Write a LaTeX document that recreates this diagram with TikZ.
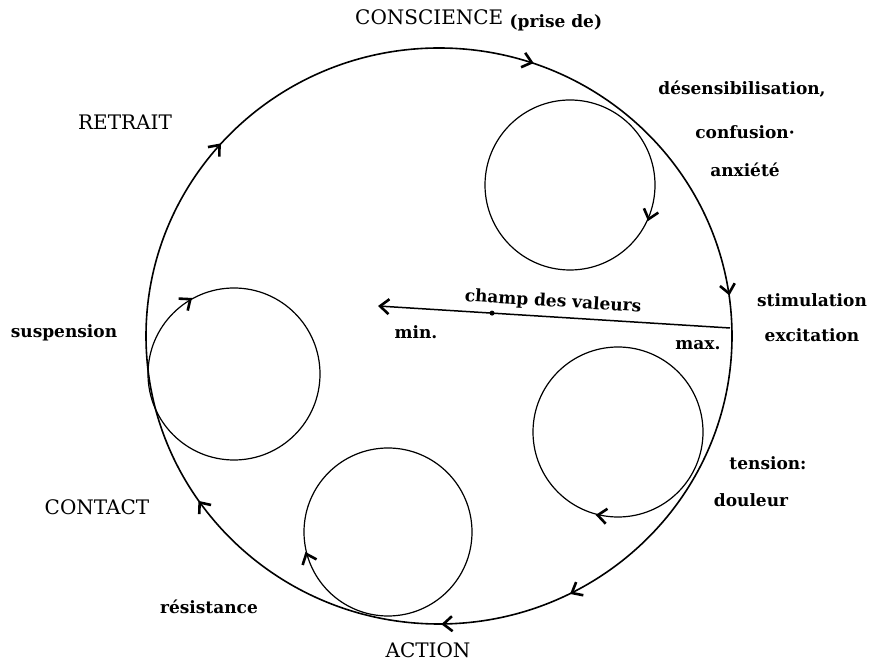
\documentclass[tikz,border=0pt]{standalone}
\usepackage{fontspec}
\setmainfont{DejaVu Serif}
\usetikzlibrary{arrows.meta,decorations.markings,positioning}

\begin{document}
\begin{tikzpicture}[x=1pt,y=1pt,>={Straight Barb[length=9pt,width=15pt,line width=2.6pt]},
  node distance=36pt, every node/.style={inner sep=0pt}]

    \tikzstyle{caps}=[font=\fontsize{20}{24}\selectfont]
    \tikzstyle{word}=[font=\bfseries\fontsize{17}{20}\selectfont]
    \tikzstyle{outer ring}=[line width=1.6pt, postaction={decorate}]
    \tikzstyle{inner ring}=[line width=1.2pt, postaction={decorate}]

    \useasboundingbox (0,0) rectangle (878,661);

    % centres of the rings
    \coordinate (o)    at (439,325);
    \coordinate (desc) at (570,476);
    \coordinate (susp) at (234,287);
    \coordinate (tens) at (618,229);
    \coordinate (resi) at (388,129);

    % the big cycle
    \draw[outer ring, decoration={markings,
        mark=at position 0.029 with {\arrow{<}},
        mark=at position 0.204 with {\arrow{<}},
        mark=at position 0.391 with {\arrow{<}},
        mark=at position 0.603 with {\arrow{<}},
        mark=at position 0.758 with {\arrow{<}},
        mark=at position 0.831 with {\arrow{<}}}]
      (o) ellipse [x radius=293, y radius=288];

    % the small loops
    \draw[inner ring, decoration={markings, mark=at position 0.954 with {\arrow{<}}}]
      (desc) circle (85);
    \draw[inner ring, decoration={markings, mark=at position 0.353 with {\arrow{<}}}]
      (susp) circle (86);
    \draw[inner ring, decoration={markings, mark=at position 0.731 with {\arrow{<}}}]
      (tens) circle (85);
    \draw[inner ring, decoration={markings, mark=at position 0.561 with {\arrow{<}}}]
      (resi) circle (84);

    % champ des valeurs
    \coordinate (max) at (730,333);
    \coordinate (min) at (378,355);
    \draw[->, line width=1.5pt] (max) -- coordinate[pos=0.676] (dot) (min);
    \fill (dot) circle (2.5);

    \node[caps] (consc) at (355,641) [anchor=west]
      {CONSCIENCE \raisebox{-3pt}{\bfseries\fontsize{17}{20}\selectfont(prise de)}};
    \node[caps] (retrait) at (125,539) {RETRAIT};
    \node[caps] (contact) at (97,154) {CONTACT};
    \node[caps] (action)  at (428,11) {ACTION};

    \node[word] (dese)  at (742,572) {désensibilisation,};
    \node[word] (conf)  at (745,529) {confusion·};
    \node[word] (anxi)  [below of=conf, node distance=38pt] {anxiété};
    \node[word] (stim)  at (812,361) {stimulation};
    \node[word] (exci)  [below of=stim, node distance=35pt] {excitation};
    \node[word] (tensi) at (768,198) {tension:};
    \node[word] (doul)  [below of=tensi, node distance=37pt, xshift=-17pt] {douleur};
    \node[word] (susl)  at (64,328) {suspension};
    \node[word] (resl)  at (209,54) {résistance};
    \node[word] (minl)  at (416,329) {min.};
    \node[word] (maxl)  at (698,316) {max.};
    \node[word, rotate=-3.5] (champ) at (553,359) {champ des valeurs};
\end{tikzpicture}
\end{document}
